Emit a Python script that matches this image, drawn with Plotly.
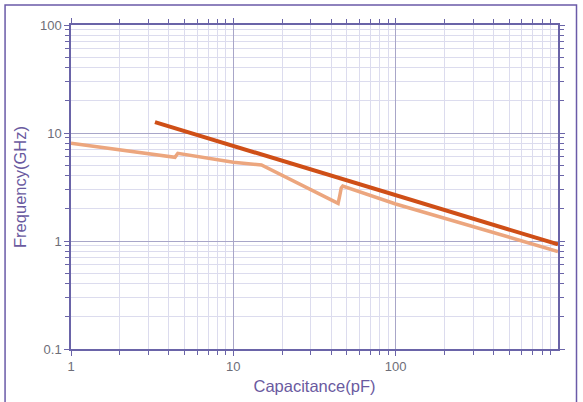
import plotly.graph_objects as go

# Capacitance (pF) vs. frequency (GHz)
cap_upper = [3.29, 1000]
freq_upper = [12.6, 0.93]

cap_lower = [1.0, 4.37, 4.55, 10.0, 14.9, 44.2, 45.2, 46.2, 47.2, 100, 1000]
freq_lower = [8.03, 5.96, 6.49, 5.35, 5.06, 2.23, 2.61, 3.1, 3.23, 2.2, 0.80]

x_tick_vals = [1, 10, 100]
x_tick_text = ["1", "10", "100"]
y_tick_vals = [0.1, 1, 10, 100]
y_tick_text = ["0.1", "1", "10", "100"]

x_minor = [m * 10 ** d for d in range(0, 3) for m in range(2, 10)]
y_minor = [m * 10 ** d for d in range(-1, 2) for m in range(2, 10)]

AXIS = "#6a64a8"
GRID_MAJOR = "#a8a6c8"
GRID_MINOR = "#dcdcee"
FONT = "Liberation Sans, Arial"

fig = go.Figure()
fig.add_trace(go.Scatter(x=cap_lower, y=freq_lower, mode="lines",
                         line=dict(color="#eca67e", width=3.5), hoverinfo="skip"))
fig.add_trace(go.Scatter(x=cap_upper, y=freq_upper, mode="lines",
                         line=dict(color="#cf4f17", width=4), hoverinfo="skip"))

common = dict(
    showline=True, linecolor=AXIS, linewidth=1.5, mirror="ticks",
    ticks="outside", ticklen=5, tickcolor=AXIS,
    showgrid=True, gridcolor=GRID_MAJOR, gridwidth=1, zeroline=False,
    tickfont=dict(family=FONT, size=13, color="#6e6e78"),
)

fig.update_xaxes(
    type="log", range=[0, 3], tickmode="array", tickvals=x_tick_vals, ticktext=x_tick_text,
    minor=dict(tickmode="array", tickvals=x_minor, ticks="outside", ticklen=4,
               tickcolor=AXIS, showgrid=True, gridcolor=GRID_MINOR, gridwidth=1),
    title=dict(text="Capacitance(pF)", standoff=7,
               font=dict(family=FONT, size=16.5, color="#6a5aa0")),
    automargin=False, **common)
fig.update_yaxes(
    type="log", range=[-1, 2], tickmode="array", tickvals=y_tick_vals, ticktext=y_tick_text,
    minor=dict(tickmode="array", tickvals=y_minor, ticks="outside", ticklen=4,
               tickcolor=AXIS, showgrid=True, gridcolor=GRID_MINOR, gridwidth=1),
    title=dict(text="Frequency(GHz)", standoff=9,
               font=dict(family=FONT, size=16.5, color="#6a5aa0")),
    automargin=False, **common)

# outer frame around the whole figure
fig.add_shape(type="rect", xref="paper", yref="paper",
              x0=-0.1354, x1=1.038, y0=-0.17, y1=1.0617,
              line=dict(color="#6a5aa8", width=1.5), layer="below")

fig.update_layout(
    width=583, height=402,
    margin=dict(l=71, r=24.5, t=25, b=53),
    paper_bgcolor="white", plot_bgcolor="white",
    showlegend=False,
)

fig.write_html("out.html")
